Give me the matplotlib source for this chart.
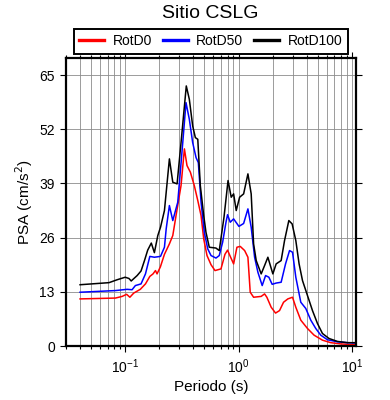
import numpy as np
import matplotlib
matplotlib.use('Agg')
import matplotlib.pyplot as plt
from matplotlib.ticker import LogLocator, NullFormatter

plt.rcParams['font.family'] = ['Liberation Sans', 'DejaVu Sans']

# espectros (periodo en s, PSA en cm/s2)
t_d100 = [0.04, 0.072, 0.085, 0.100, 0.108, 0.113, 0.1275, 0.138, 0.148, 0.158,
          0.170, 0.181, 0.194, 0.205, 0.222, 0.2455, 0.263, 0.287, 0.311, 0.346,
          0.368, 0.394, 0.416, 0.437, 0.460, 0.493, 0.516, 0.552, 0.632, 0.676,
          0.745, 0.808, 0.862, 0.905, 0.954, 1.022, 1.109, 1.21, 1.293, 1.358,
          1.432, 1.584, 1.697, 1.815, 2.008, 2.147, 2.376, 2.546, 2.778, 2.97,
          3.201, 3.422, 3.667, 4.058, 4.491, 4.970, 5.500, 6.287, 7.454, 9.128, 10.8]
psa_d100 = [14.7, 15.2, 15.9, 16.5, 16.2, 15.6, 16.9, 18.0, 20.5, 23.0,
            24.7, 22.4, 26.5, 28.5, 32.5, 44.9, 39.3, 38.9, 48.8, 62.4,
            59.2, 52.8, 50.0, 49.6, 38.5, 31.3, 27.3, 23.7, 23.5, 22.9,
            31.0, 39.7, 35.7, 36.5, 32.5, 35.7, 36.5, 41.3, 36.5, 24.5,
            20.5, 17.3, 19.3, 21.3, 17.3, 19.7, 20.5, 25.3, 30.1, 29.3,
            25.3, 19.7, 15.7, 12.1, 8.5, 5.4, 3.0, 1.8, 1.1, 0.8, 0.8]

t_d50 = [0.04, 0.082, 0.104, 0.115, 0.123, 0.138, 0.151, 0.165, 0.181, 0.205,
         0.222, 0.230, 0.2455, 0.263, 0.291, 0.322, 0.344, 0.368, 0.394, 0.422,
         0.442, 0.467, 0.499, 0.535, 0.572, 0.632, 0.676, 0.724, 0.775, 0.80,
         0.845, 0.905, 1.008, 1.109, 1.21, 1.293, 1.386, 1.482, 1.617, 1.732,
         1.852, 1.98, 2.147, 2.376, 2.598, 2.818, 2.994, 3.201, 3.542, 3.920,
         4.338, 4.801, 5.313, 6.086, 7.454, 9.128, 10.8]
psa_d50 = [12.9, 13.3, 13.6, 13.5, 14.5, 14.9, 17.3, 21.5, 21.3, 21.5,
           23.7, 28.1, 33.7, 30.1, 34.5, 48.8, 58.4, 54.4, 48.8, 45.2,
           44.0, 34.5, 27.3, 23.3, 21.7, 21.1, 21.7, 24.9, 29.7, 31.5,
           29.7, 30.5, 28.7, 29.4, 32.9, 28.5, 21.3, 17.7, 14.5, 16.9,
           16.5, 14.8, 15.1, 15.3, 19.7, 22.9, 22.5, 16.5, 10.5, 9.0,
           6.2, 4.2, 2.6, 1.5, 1.0, 0.8, 0.7]

t_d0 = [0.04, 0.082, 0.094, 0.103, 0.110, 0.119, 0.136, 0.151, 0.165, 0.176,
        0.185, 0.191, 0.2045, 0.222, 0.2455, 0.263, 0.281, 0.311, 0.333, 0.351,
        0.376, 0.407, 0.437, 0.467, 0.493, 0.527, 0.572, 0.620, 0.700, 0.759,
        0.80, 0.845, 0.905, 0.968, 1.035, 1.132, 1.21, 1.268, 1.358, 1.584,
        1.697, 1.778, 1.941, 2.121, 2.300, 2.495, 2.722, 2.994, 3.201, 3.542,
        4.058, 4.639, 5.5, 6.507, 7.969, 10.8]
psa_d0 = [11.3, 11.5, 11.9, 12.4, 11.7, 12.7, 13.6, 14.9, 16.7, 17.3,
          18.1, 17.3, 19.0, 22.0, 24.5, 26.5, 31.3, 38.5, 47.3, 43.3,
          41.7, 38.5, 34.9, 31.3, 25.7, 21.7, 19.5, 18.1, 18.5, 22.0,
          23.0, 21.5, 19.7, 23.7, 23.9, 22.9, 21.3, 12.9, 11.7, 11.9,
          12.5, 11.7, 9.3, 7.9, 8.5, 10.5, 11.3, 11.7, 9.3, 6.2,
          4.2, 2.6, 1.4, 0.8, 0.5, 0.3]

yticks = [0, 13, 26, 39, 52, 65]

fig = plt.figure(figsize=(3.9, 4.0), dpi=100)
ax = fig.add_axes([0.169, 0.135, 0.743, 0.721])

ax.plot(t_d0, psa_d0, color='red', lw=1.1, label='RotD0')
ax.plot(t_d50, psa_d50, color='blue', lw=1.1, label='RotD50')
ax.plot(t_d100, psa_d100, color='black', lw=1.1, label='RotD100')

ax.set_xscale('log')
ax.set_xlim(0.03, 10.8)
ax.set_ylim(0, 69.2)
ax.set_yticks(yticks)
ax.xaxis.set_minor_locator(LogLocator(base=10, subs=np.arange(2, 10)))
ax.xaxis.set_minor_formatter(NullFormatter())

ax.grid(True, which='major', color='0.55', lw=0.6)
ax.grid(True, which='minor', axis='x', color='0.55', lw=0.6)
ax.set_axisbelow(True)

ax.tick_params(which='both', direction='out', top=True, right=True, labelsize=10,
               width=0.8, color='black')
ax.tick_params(which='major', length=4.5)
ax.tick_params(which='minor', length=2.5)
for s in ax.spines.values():
    s.set_linewidth(1.6)

ax.set_xlabel('Periodo (s)', fontsize=11, labelpad=3)
ax.set_ylabel('PSA (cm/s$^2$)', fontsize=11, labelpad=3)

leg = ax.legend(loc='center', bbox_to_anchor=(0.5, 1.057), ncol=3, fontsize=10,
                frameon=True, fancybox=False, edgecolor='black', framealpha=1,
                handlelength=1.8, handletextpad=0.6, columnspacing=0.8,
                borderpad=0.4, borderaxespad=0)
leg.get_frame().set_linewidth(1.4)
for h in leg.get_lines():
    h.set_linewidth(2.4)

fig.text(0.54, 0.967, 'Sitio CSLG', ha='center', va='center', fontsize=14)

fig.savefig('out.png', dpi=100)
